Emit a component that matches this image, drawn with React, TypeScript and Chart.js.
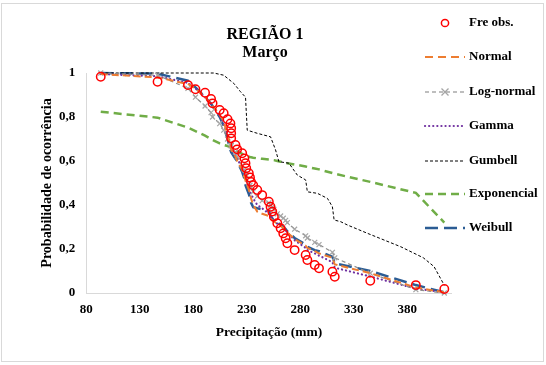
import React, { useEffect, useRef } from 'react';
import { Chart, registerables } from 'chart.js';
Chart.register(...registerables);

const titleLines = ['REGIÃO 1', 'Março'];
const xTitle = 'Precipitação (mm)';
const yTitle = 'Probabilidade de ocorrência';
const xTicks = [80, 130, 180, 230, 280, 330, 380];
const yTicks = [0, 0.2, 0.4, 0.6, 0.8, 1];
const legendLabels = ['Fre obs.', 'Normal', 'Log-normal', 'Gamma', 'Gumbell', 'Exponencial', 'Weibull'];

const obsX = [93.5, 146.6, 175, 182, 191, 196.6, 198, 204.7, 208.4, 212, 214.7, 215.4, 215.4, 215.4, 219.4, 221, 225.7, 227.8, 228.8, 229.5, 231.9, 233, 234, 236, 239.8, 244.4, 250.6, 252.2, 253.8, 255.3, 258.5, 261.6, 264.1, 266.3, 267.9, 274.7, 285, 286.6, 293.5, 297.5, 310, 312.2, 345.4, 388, 414.6];
const obsY = [0.983, 0.96, 0.945, 0.926, 0.91, 0.882, 0.862, 0.832, 0.817, 0.79, 0.771, 0.749, 0.726, 0.703, 0.673, 0.653, 0.635, 0.612, 0.59, 0.567, 0.544, 0.525, 0.505, 0.49, 0.468, 0.445, 0.415, 0.392, 0.37, 0.347, 0.317, 0.294, 0.271, 0.249, 0.226, 0.195, 0.173, 0.15, 0.127, 0.112, 0.097, 0.074, 0.056, 0.036, 0.018];

const normalY = [0.995, 0.98, 0.95, 0.93, 0.89, 0.86, 0.85, 0.81, 0.78, 0.72, 0.67, 0.65, 0.65, 0.65, 0.62, 0.6, 0.56, 0.53, 0.51, 0.5, 0.47, 0.45, 0.43, 0.4, 0.37, 0.36, 0.35, 0.34, 0.33, 0.325, 0.315, 0.305, 0.295, 0.285, 0.275, 0.245, 0.215, 0.205, 0.19, 0.18, 0.16, 0.13, 0.09, 0.025, 0.003];
const lognormalY = [1.0, 0.99, 0.93, 0.89, 0.85, 0.82, 0.8, 0.77, 0.74, 0.7, 0.68, 0.67, 0.67, 0.67, 0.64, 0.62, 0.58, 0.56, 0.54, 0.53, 0.5, 0.49, 0.48, 0.46, 0.44, 0.42, 0.41, 0.4, 0.39, 0.38, 0.36, 0.35, 0.34, 0.33, 0.32, 0.29, 0.26, 0.25, 0.23, 0.22, 0.185, 0.16, 0.09, 0.015, 0.0];
const gammaY = [0.995, 0.985, 0.955, 0.93, 0.89, 0.86, 0.85, 0.805, 0.77, 0.72, 0.68, 0.67, 0.67, 0.67, 0.63, 0.61, 0.57, 0.54, 0.52, 0.51, 0.48, 0.46, 0.45, 0.43, 0.4, 0.385, 0.36, 0.35, 0.34, 0.33, 0.315, 0.305, 0.295, 0.285, 0.275, 0.24, 0.205, 0.195, 0.18, 0.17, 0.14, 0.115, 0.075, 0.02, 0.003];
const weibullY = [1.0, 0.997, 0.965, 0.935, 0.89, 0.86, 0.85, 0.8, 0.76, 0.7, 0.65, 0.64, 0.64, 0.64, 0.61, 0.6, 0.55, 0.52, 0.49, 0.48, 0.45, 0.43, 0.41, 0.39, 0.385, 0.38, 0.375, 0.35, 0.34, 0.33, 0.32, 0.31, 0.3, 0.29, 0.28, 0.25, 0.22, 0.21, 0.195, 0.19, 0.165, 0.135, 0.1, 0.036, 0.003];
const exponencialY = [0.824, 0.797, 0.752, 0.736, 0.715, 0.7, 0.696, 0.68, 0.673, 0.668, 0.663, 0.66, 0.66, 0.66, 0.65, 0.645, 0.632, 0.627, 0.625, 0.623, 0.62, 0.618, 0.617, 0.615, 0.612, 0.61, 0.607, 0.606, 0.605, 0.604, 0.6, 0.597, 0.594, 0.592, 0.59, 0.584, 0.575, 0.573, 0.566, 0.562, 0.545, 0.542, 0.505, 0.455, 0.32];

const gumbelX = [93.5, 199, 208.4, 217.8, 224.1, 228.8, 230.4, 239.7, 252.2, 256.9, 260, 269.4, 277.2, 285, 286.6, 296, 305.4, 310, 311.6, 317.8, 324.1, 342.9, 374, 395, 405, 414.6];
const gumbelY = [1.0, 1.0, 0.99, 0.953, 0.915, 0.89, 0.74, 0.726, 0.71, 0.65, 0.597, 0.59, 0.536, 0.514, 0.46, 0.453, 0.43, 0.392, 0.332, 0.324, 0.309, 0.271, 0.21, 0.16, 0.12, 0.035];

const SERIF = "'Liberation Serif', 'Times New Roman', serif";

type LegendStyle = { kind: 'circle' | 'line'; color: string; width?: number; dash?: number[]; cap?: CanvasLineCap; marker?: boolean };
const legendStyles: LegendStyle[] = [
  { kind: 'circle', color: '#FF0000' },
  { kind: 'line', color: '#ED7D31', width: 2, dash: [8, 5] },
  { kind: 'line', color: '#7F7F7F', width: 1.2, dash: [4, 3], marker: true },
  { kind: 'line', color: '#7030A0', width: 2.2, dash: [0.1, 4], cap: 'round' },
  { kind: 'line', color: '#000000', width: 1, dash: [3, 2] },
  { kind: 'line', color: '#70AD47', width: 2.5, dash: [8, 5] },
  { kind: 'line', color: '#2B5C94', width: 2.5, dash: [13, 6] },
];
const legendRowY = [23, 57, 92, 126, 161, 194, 228];

export default function App() {
  const ref = useRef<HTMLCanvasElement>(null);
  useEffect(() => {
    document.body.style.margin = '0';
    const canvas = ref.current;
    if (!canvas) return;
    const pts = (xs: number[], ys: number[]) => xs.map((x, i) => ({ x, y: ys[i] }));

    const decor = {
      id: 'decor',
      afterDraw(chart: any) {
        const c: CanvasRenderingContext2D = chart.ctx;
        c.save();
        c.strokeStyle = '#D9D9D9';
        c.lineWidth = 1;
        c.setLineDash([]);
        c.strokeRect(1.5, 3.5, 542, 358);
        c.fillStyle = '#000';
        c.font = `bold 16px ${SERIF}`;
        c.textAlign = 'center';
        c.textBaseline = 'alphabetic';
        c.fillText(titleLines[0], 265, 38.5);
        c.fillText(titleLines[1], 265, 56.5);
        c.font = `bold 13px ${SERIF}`;
        c.textAlign = 'left';
        c.textBaseline = 'middle';
        legendLabels.forEach((lab, i) => {
          const y = legendRowY[i];
          const st = legendStyles[i];
          c.save();
          c.strokeStyle = st.color;
          if (st.kind === 'circle') {
            c.lineWidth = 1.5;
            c.beginPath();
            c.arc(445, y, 3.6, 0, Math.PI * 2);
            c.stroke();
          } else {
            c.lineWidth = st.width || 1;
            c.lineCap = st.cap || 'butt';
            c.setLineDash(st.dash || []);
            c.beginPath();
            c.moveTo(425, y);
            c.lineTo(465, y);
            c.stroke();
            if (st.marker) {
              c.setLineDash([]);
              c.strokeStyle = '#A5A5A5';
              c.lineWidth = 1.3;
              c.beginPath();
              c.moveTo(441.5, y - 3.5); c.lineTo(448.5, y + 3.5);
              c.moveTo(441.5, y + 3.5); c.lineTo(448.5, y - 3.5);
              c.stroke();
            }
          }
          c.restore();
          c.fillStyle = '#000';
          c.fillText(lab, 469, y);
        });
        c.restore();
      },
    };

    const chart = new Chart(canvas, {
      type: 'scatter',
      data: {
        datasets: [
          {
            label: legendLabels[0], data: pts(obsX, obsY), showLine: false,
            pointStyle: 'circle', pointRadius: 4.2, pointBorderWidth: 1.5,
            pointBorderColor: '#FF0000', pointBackgroundColor: 'rgba(255,255,255,0)', borderColor: '#FF0000',
          },
          {
            label: legendLabels[1], data: pts(obsX, normalY), showLine: true,
            borderColor: '#ED7D31', borderWidth: 2, borderDash: [7, 4], pointRadius: 0,
          },
          {
            label: legendLabels[2], data: pts(obsX, lognormalY), showLine: true,
            borderColor: '#8C8C8C', borderWidth: 1.2, borderDash: [4, 3],
            pointStyle: 'crossRot', pointRadius: 3.5, pointBorderColor: '#A5A5A5', pointBorderWidth: 1.2,
          },
          {
            label: legendLabels[3], data: pts(obsX, gammaY), showLine: true,
            borderColor: '#7030A0', borderWidth: 2.2, borderDash: [0.1, 4], borderCapStyle: 'round', pointRadius: 0,
          },
          {
            label: legendLabels[4], data: pts(gumbelX, gumbelY), showLine: true,
            borderColor: '#000000', borderWidth: 1, borderDash: [3, 2], pointRadius: 0,
          },
          {
            label: legendLabels[5], data: pts(obsX, exponencialY), showLine: true,
            borderColor: '#70AD47', borderWidth: 2.5, borderDash: [8, 5], pointRadius: 0,
          },
          {
            label: legendLabels[6], data: pts(obsX, weibullY), showLine: true,
            borderColor: '#2B5C94', borderWidth: 2.5, borderDash: [13, 6], pointRadius: 0,
          },
        ] as any,
      },
      options: {
        responsive: false,
        animation: false,
        clip: false as any,
        layout: { padding: { left: 0, top: 73, right: 94.3, bottom: 0 } },
        plugins: { legend: { display: false }, title: { display: false }, tooltip: { enabled: false } },
        elements: { line: { tension: 0 } },
        scales: {
          x: {
            type: 'linear', min: 80, max: 421.5,
            grid: { display: false, drawTicks: false },
            border: { display: true, color: '#D9D9D9', width: 1 },
            afterBuildTicks: (s: any) => { s.ticks = xTicks.map((v) => ({ value: v })); },
            afterFit: (s: any) => { s.height = 72; },
            ticks: { padding: 9, color: '#000', font: { family: SERIF, size: 13, weight: 'bold' } },
            title: { display: true, text: xTitle, color: '#000', padding: { top: 0, bottom: 24.5 }, font: { family: SERIF, size: 13.5, weight: 'bold' } },
          },
          y: {
            type: 'linear', min: 0, max: 1,
            grid: { display: false, drawTicks: false },
            border: { display: true, color: '#D9D9D9', width: 1 },
            afterBuildTicks: (s: any) => { s.ticks = yTicks.map((v) => ({ value: v })); },
            afterFit: (s: any) => { s.width = 86.3; },
            ticks: {
              padding: 11, color: '#000', font: { family: SERIF, size: 13, weight: 'bold' },
              callback: (v: any) => String(Math.round(Number(v) * 10) / 10).replace('.', ','),
            },
            title: { display: true, text: yTitle, color: '#000', padding: { top: 38.5, bottom: 0 }, font: { family: SERIF, size: 14, weight: 'bold' } },
          },
        },
      } as any,
      plugins: [decor],
    });
    return () => chart.destroy();
  }, []);
  return (
    <div style={{ width: 546, height: 365 }}>
      <canvas ref={ref} width={546} height={365} style={{ display: 'block', width: 546, height: 365 }} />
    </div>
  );
}
